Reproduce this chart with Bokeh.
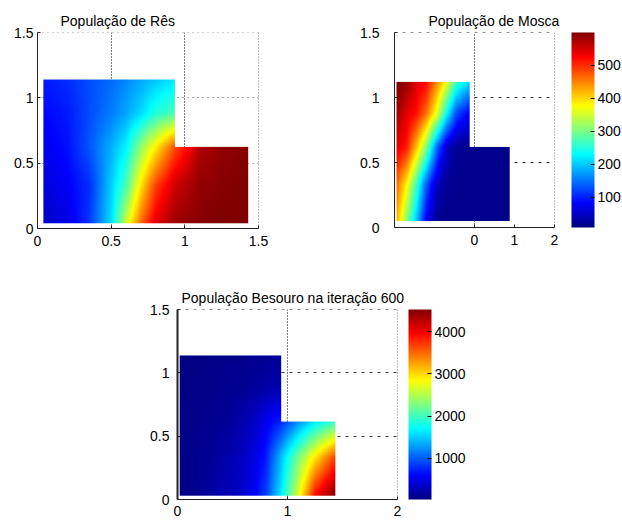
import numpy as np
from bokeh.plotting import figure
from bokeh.models import Range1d, FixedTicker, LinearColorMapper, ColorBar, Span
from bokeh.layouts import column, row
from bokeh.embed import file_html
from bokeh.resources import INLINE

# ---------------------------------------------------------------
# Data: population fields sampled on the nodes of an L-shaped domain
# (rows run bottom -> top, NaN = outside the domain)
# ---------------------------------------------------------------
nan = np.nan

# Rês (relative scale 0..1)
res_x_nodes = [0.04, 0.2, 0.35, 0.5, 0.6, 0.7, 0.8, 0.93, 1.1, 1.25, 1.43]
res_y_nodes = [0.04, 0.33, 0.62, 0.88, 1.14]
res_values = [
    [0.07, 0.10, 0.18, 0.35, 0.58, 0.77, 0.90, 0.97, 0.99, 1.00, 1.00],
    [0.09, 0.12, 0.17, 0.33, 0.45, 0.65, 0.81, 0.92, 0.98, 0.99, 1.00],
    [0.11, 0.14, 0.21, 0.30, 0.37, 0.52, 0.64, 0.80, 0.95, 0.98, 0.99],
    [0.13, 0.15, 0.20, 0.25, 0.29, 0.34, 0.41, 0.45, nan, nan, nan],
    [0.15, 0.17, 0.20, 0.23, 0.26, 0.29, 0.32, 0.35, nan, nan, nan],
]
res_notch = (0.93, 0.62)

# Mosca
mosca_x_nodes = [-1.95, -1.7, -1.45, -1.2, -0.95, -0.7, -0.45, -0.13, 0.2, 0.55, 0.88]
mosca_y_nodes = [0.05, 0.33, 0.62, 0.88, 1.12]
mosca_values = [
    [422, 310, 194, 73, 20, 15, 15, 15, 15, 15, 15],
    [464, 384, 263, 132, 49, 20, 17, 15, 15, 15, 15],
    [541, 511, 414, 304, 150, 49, 20, 17, 15, 15, 15],
    [582, 541, 517, 458, 369, 233, 126, 79, nan, nan, nan],
    [600, 588, 541, 523, 446, 369, 263, 209, nan, nan, nan],
]
mosca_notch = (-0.13, 0.62)
mosca_range = (8, 600)
mosca_ticks = [100, 200, 300, 400, 500]

# Besouro, iteration 600
besouro_x_nodes = [0.02, 0.2, 0.35, 0.5, 0.6, 0.7, 0.8, 0.935, 1.1, 1.25, 1.435]
besouro_y_nodes = [0.03, 0.33, 0.616, 0.88, 1.137]
besouro_values = [
    [75, 120, 210, 299, 389, 569, 883, 1602, 2724, 3936, 4520],
    [75, 120, 165, 255, 344, 479, 704, 1422, 2275, 2949, 3712],
    [75, 75, 120, 165, 255, 344, 524, 748, 1242, 1646, 1961],
    [52, 75, 75, 120, 120, 165, 210, 255, nan, nan, nan],
    [52, 52, 75, 75, 75, 120, 120, 165, nan, nan, nan],
]
besouro_notch = (0.935, 0.616)
besouro_range = (30, 4520)
besouro_ticks = [1000, 2000, 3000, 4000]

y_ticks = [0, 0.5, 1, 1.5]
y_tick_labels = ["0", "0.5", "1", "1.5"]
res_x_ticks = [0, 0.5, 1, 1.5]
res_x_tick_labels = ["0", "0.5", "1", "1.5"]
mosca_x_ticks = [0, 1, 2]
mosca_x_tick_labels = ["0", "1", "2"]
besouro_x_ticks = [0, 1, 2]
besouro_x_tick_labels = ["0", "1", "2"]

FONT = "Liberation Sans"


def jet_palette(n=256):
    t = np.linspace(0, 1, n)
    r = np.clip(1.5 - np.abs(4 * t - 3), 0, 1)
    g = np.clip(1.5 - np.abs(4 * t - 2), 0, 1)
    b = np.clip(1.5 - np.abs(4 * t - 1), 0, 1)
    return ["#%02x%02x%02x" % (int(round(255 * a)), int(round(255 * c)), int(round(255 * d)))
            for a, c, d in zip(r, g, b)]


JET = jet_palette()


def field_image(xn, yn, vals, notch, nx=300, ny=240):
    """Resample the nodal table onto a raster covering the domain."""
    xn = np.asarray(xn, float)
    yn = np.asarray(yn, float)
    vals = np.asarray(vals, float)
    xs = np.linspace(xn[0], xn[-1], nx)
    ys = np.linspace(yn[0], yn[-1], ny)
    rows = []
    for r in vals:
        ok = ~np.isnan(r)
        rows.append(np.interp(xs, xn[ok], r[ok]))
    rows = np.array(rows)
    out = np.empty((ny, nx))
    for j in range(nx):
        out[:, j] = np.interp(ys, yn, rows[:, j])
    X, Y = np.meshgrid(xs, ys)
    out[(X > notch[0]) & (Y > notch[1])] = np.nan
    return out, xn[0], yn[0], xn[-1] - xn[0], yn[-1] - yn[0]


def style_axes(p, xt, xl, yt, yl, y_standoff, x_standoff=7, axis_width=1):
    p.xaxis.ticker = FixedTicker(ticks=xt)
    p.xaxis.major_label_overrides = dict(zip(xt, xl))
    p.yaxis.ticker = FixedTicker(ticks=yt)
    p.yaxis.major_label_overrides = dict(zip(yt, yl))
    for ax in (p.xaxis, p.yaxis):
        ax.axis_line_color = "#222222"
        ax.major_tick_line_color = "#222222"
        ax.major_tick_in = 3
        ax.major_tick_out = 0
        ax.minor_tick_line_color = None
        ax.major_label_text_font = FONT
        ax.major_label_text_font_size = "14px"
        ax.major_label_text_color = "black"
    p.yaxis.axis_line_width = axis_width
    p.yaxis.major_label_standoff = y_standoff
    p.xaxis.major_label_standoff = x_standoff
    p.outline_line_color = None
    p.background_fill_color = "white"
    p.border_fill_color = "white"


def style_grid(p, vticks, hticks, vdash, hdash, hcolor, x_end, y_end):
    p.xgrid.ticker = FixedTicker(ticks=vticks)
    p.ygrid.ticker = FixedTicker(ticks=hticks)
    p.xgrid.grid_line_color = "black"
    p.xgrid.grid_line_dash = vdash
    p.xgrid.grid_line_width = 1
    p.ygrid.grid_line_color = hcolor
    p.ygrid.grid_line_dash = hdash
    p.ygrid.grid_line_width = 1
    # grid lines that fall on the far edges of the frame
    p.add_layout(Span(location=x_end, dimension="height", line_color="black",
                      line_dash=vdash, line_width=1))
    p.add_layout(Span(location=y_end, dimension="width", line_color=hcolor,
                      line_dash=hdash, line_width=1))


def style_title(p, text, offset, standoff):
    p.title.text = text
    p.title.align = "left"
    p.title.offset = offset
    p.title.standoff = standoff
    p.title.text_font = FONT
    p.title.text_font_size = "14px"
    p.title.text_font_style = "normal"
    p.title.text_color = "black"


def colorbar(mapper, ticks, height, gap):
    return ColorBar(color_mapper=mapper, ticker=FixedTicker(ticks=ticks),
                    width=23, height=height, padding=0, margin=0, location=(gap, 0),
                    major_tick_line_color="black", major_tick_in=4, major_tick_out=0,
                    minor_tick_line_color=None, label_standoff=3,
                    major_label_text_font=FONT, major_label_text_font_size="14px",
                    major_label_text_color="black",
                    bar_line_color=None, border_line_color=None,
                    background_fill_color=None)


# ---------------- Rês ----------------
p1 = figure(frame_width=221, frame_height=196, min_border_left=37, min_border_right=42,
            min_border_top=31, min_border_bottom=53,
            x_range=Range1d(0, 1.5), y_range=Range1d(0, 1.5),
            output_backend="svg", toolbar_location=None)
img, x0, y0, dw, dh = field_image(res_x_nodes, res_y_nodes, res_values, res_notch)
m1 = LinearColorMapper(palette=JET, low=0, high=1, nan_color=(0, 0, 0, 0))
p1.image(image=[img], x=x0, y=y0, dw=dw, dh=dh, color_mapper=m1)
style_axes(p1, res_x_ticks, res_x_tick_labels, y_ticks, y_tick_labels, y_standoff=4)
style_grid(p1, [0.5, 1], [0.5, 1], "1 2", "1 4", "#555555", 1.5, 1.5)
style_title(p1, "População de Rês", 23, 8)

# ---------------- Mosca ----------------
p2 = figure(frame_width=160, frame_height=195, min_border_left=94, min_border_right=68,
            min_border_top=32, min_border_bottom=53,
            x_range=Range1d(-2, 2), y_range=Range1d(0, 1.5),
            output_backend="svg", toolbar_location=None)
img, x0, y0, dw, dh = field_image(mosca_x_nodes, mosca_y_nodes, mosca_values, mosca_notch)
m2 = LinearColorMapper(palette=JET, low=mosca_range[0], high=mosca_range[1], nan_color=(0, 0, 0, 0))
p2.image(image=[img], x=x0, y=y0, dw=dw, dh=dh, color_mapper=m2)
style_axes(p2, mosca_x_ticks, mosca_x_tick_labels, y_ticks, y_tick_labels, y_standoff=15)
style_grid(p2, [0], [0.5, 1], "1 2", "3 5", "#333333", 2, 1.5)
style_title(p2, "População de Mosca", 34, 8)
p2.add_layout(colorbar(m2, mosca_ticks, 195, 17), "right")

# ---------------- Besouro ----------------
p3 = figure(frame_width=220, frame_height=190, min_border_left=177, min_border_right=100,
            min_border_top=29, min_border_bottom=23,
            x_range=Range1d(0, 2), y_range=Range1d(0, 1.5),
            output_backend="svg", toolbar_location=None)
img, x0, y0, dw, dh = field_image(besouro_x_nodes, besouro_y_nodes, besouro_values, besouro_notch)
m3 = LinearColorMapper(palette=JET, low=besouro_range[0], high=besouro_range[1], nan_color=(0, 0, 0, 0))
p3.image(image=[img], x=x0, y=y0, dw=dw, dh=dh, color_mapper=m3)
style_axes(p3, besouro_x_ticks, besouro_x_tick_labels, y_ticks, y_tick_labels,
           y_standoff=8, x_standoff=6, axis_width=2)
style_grid(p3, [1], [0.5, 1], "1 2", "3 5", "#333333", 2, 1.5)
style_title(p3, "População Besouro na iteração 600", 4, 8)
p3.add_layout(colorbar(m3, besouro_ticks, 190, 11), "right")

layout = column(row(p1, p2), p3)
open("out.html", "w").write(file_html(layout, INLINE))
